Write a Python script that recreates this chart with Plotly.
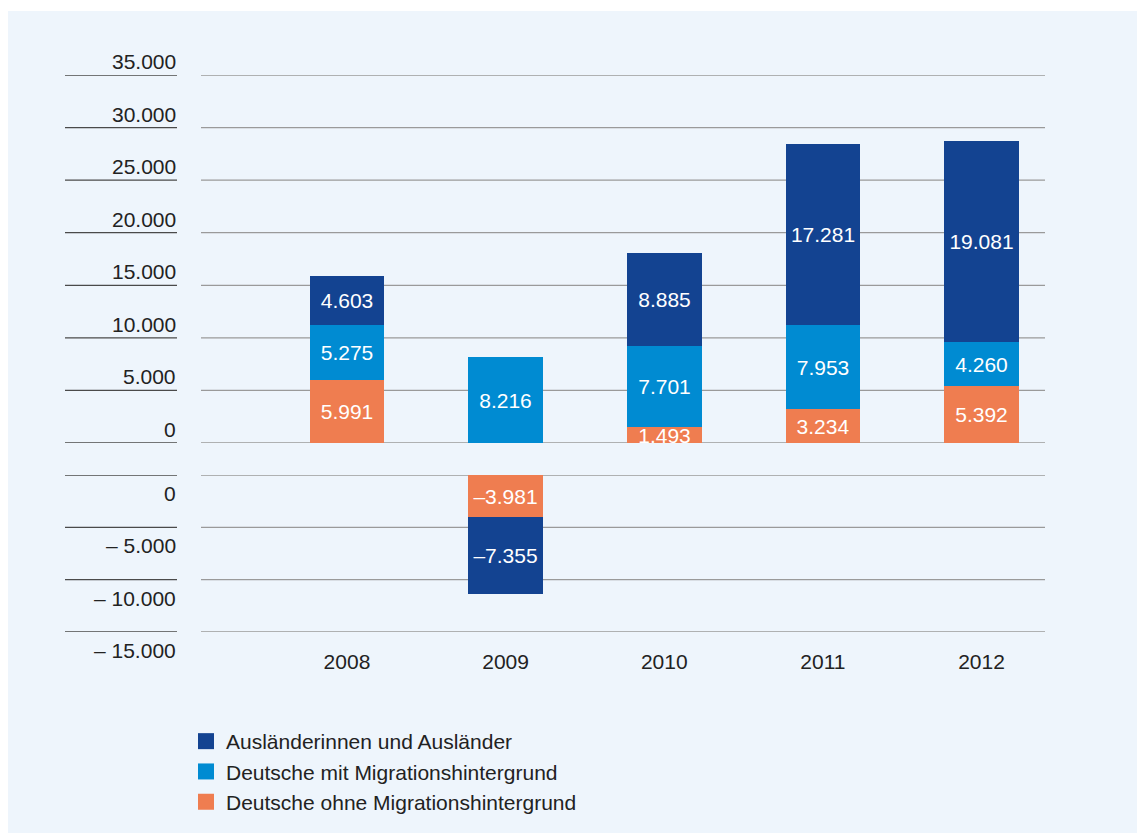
"""Stacked bar chart with split axis: Wanderungssaldo nach Gruppen 2008-2012."""

import plotly.graph_objects as go

years = ["2008", "2009", "2010", "2011", "2012"]
auslaender = [4603, -7355, 8885, 17281, 19081]
mit_migration = [5275, 8216, 7701, 7953, 4260]
ohne_migration = [5991, -3981, 1493, 3234, 5392]

upper_ticks = [0, 5000, 10000, 15000, 20000, 25000, 30000, 35000]
upper_labels = ["0", "5.000", "10.000", "15.000", "20.000", "25.000", "30.000", "35.000"]
lower_ticks = [0, -5000, -10000, -15000]
lower_labels = ["0", "\u2013 5.000", "\u2013 10.000", "\u2013 15.000"]

_BG = "#EEF5FC"
_TXT = "#222222"
_FONT = "Liberation Sans, Arial, sans-serif"
_OFF = 8  # page body margin
_W, _H = 1145 - _OFF, 833 - _OFF
_L, _R, _T, _B = 201, 1045, 75, 632  # plot area in page px


def px_x(x):
    return (x - _L) / (_R - _L)


def px_y(y):
    return (_B - y) / (_B - _T)


def fmt(v):
    s = f"{abs(v):,}".replace(",", ".")
    return ("\u2013" + s) if v < 0 else s


series = [
    ("Deutsche ohne Migrationshintergrund", ohne_migration, "#EF7D50"),
    ("Deutsche mit Migrationshintergrund", mit_migration, "#008BD2"),
    ("Ausländerinnen und Ausländer", auslaender, "#134391"),
]

xs = list(range(len(years)))
fig = go.Figure()

for name, vals, color in series:
    pos = [v if v > 0 else None for v in vals]
    neg = [v if v < 0 else None for v in vals]
    for part, yax in ((pos, "y"), (neg, "y2")):
        if all(v is None for v in part):
            continue
        fig.add_trace(go.Bar(
            x=xs, y=part, name=name, yaxis=yax,
            marker={"color": color, "line": {"width": 0}},
            width=0.47,
            text=[fmt(v) if v is not None else "" for v in part],
            textposition="inside", insidetextanchor="middle",
            constraintext="none", textangle=0, cliponaxis=False,
            textfont={"color": "white", "size": 21, "family": _FONT},
            showlegend=False, hoverinfo="skip",
        ))
    # legend entry with a bigger square swatch
    fig.add_trace(go.Scatter(
        x=[None], y=[None], mode="markers", name=name,
        marker={"symbol": "square", "size": 16, "color": color},
    ))

shapes = [
    dict(type="rect", xref="paper", yref="paper",
         x0=px_x(_OFF), x1=px_x(1150), y0=px_y(840), y1=px_y(11),
         fillcolor=_BG, line={"width": 0}, layer="below"),
]
annotations = []
for ticks, labels, yref, below in ((upper_ticks, upper_labels, "y", False),
                                   (lower_ticks, lower_labels, "y2", True)):
    for v, lab in zip(ticks, labels):
        shapes.append(dict(type="line", xref="paper", yref=yref,
                           x0=0, x1=1, y0=v, y1=v,
                           line={"color": "#9a9a9a", "width": 1.3}, layer="below"))
        shapes.append(dict(type="line", xref="paper", yref=yref,
                           x0=px_x(65), x1=px_x(177), y0=v, y1=v,
                           line={"color": "#4a4a4a", "width": 1.3}))
        annotations.append(dict(
            xref="paper", yref=yref, x=px_x(178), y=v, text=lab,
            showarrow=False, xanchor="right",
            yanchor="top" if below else "bottom",
            yshift=-5 if below else 0,
            font={"size": 21, "color": _TXT, "family": _FONT},
        ))

fig.update_layout(
    width=_W, height=_H,
    paper_bgcolor="white", plot_bgcolor="rgba(0,0,0,0)",
    margin={"l": _L - _OFF, "r": _W - (_R - _OFF), "t": _T - _OFF,
            "b": _H - (_B - _OFF), "autoexpand": False},
    barmode="relative", bargap=0,
    font={"family": _FONT, "size": 21, "color": _TXT},
    xaxis={
        "range": [-0.92, 4.4], "tickvals": xs, "ticktext": years,
        "showgrid": False, "zeroline": False, "showline": False,
        "anchor": "y2", "ticks": "", "ticklabelstandoff": 15,
        "tickfont": {"size": 21, "color": _TXT},
    },
    yaxis={
        "domain": [px_y(443), 1], "range": [0, 35000],
        "showgrid": False, "zeroline": False, "showticklabels": False,
    },
    yaxis2={
        "domain": [0, px_y(475)], "range": [-15000, 0],
        "showgrid": False, "zeroline": False, "showticklabels": False,
    },
    legend={
        "x": px_x(186), "y": px_y(721), "xanchor": "left", "yanchor": "top",
        "traceorder": "reversed", "bgcolor": "rgba(0,0,0,0)",
        "font": {"size": 21, "color": _TXT},
        "itemsizing": "trace", "tracegroupgap": 0,
    },
    shapes=shapes,
    annotations=annotations,
)

fig.write_html("out.html")
